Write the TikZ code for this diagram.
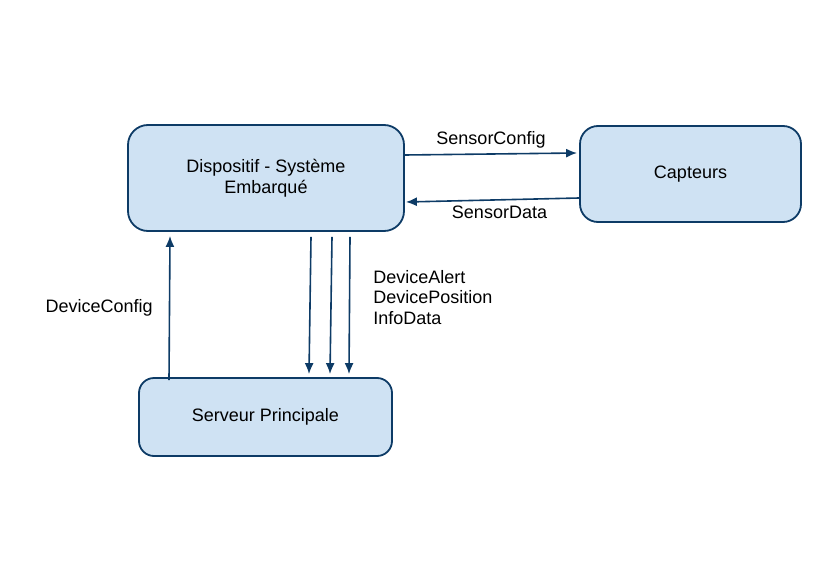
\documentclass[tikz,border=0pt]{standalone}
\usepackage{fontspec}
\setmainfont{Liberation Sans}
\usetikzlibrary{arrows.meta,positioning}
\definecolor{boxfill}{HTML}{CFE2F3}
\definecolor{navy}{HTML}{0D3B66}
\tikzset{
  block/.style={draw=navy, line width=1.8pt, fill=boxfill, rounded corners=#1,
    align=center, inner sep=0pt},
  block/.default=18pt,
  flow/.style={draw=navy, line width=1.6pt, -{Latex[length=11pt,width=9pt]}},
  lbl/.style={inner sep=2pt, align=left}
}

\begin{document}
\begin{tikzpicture}[x=1pt, y=-1pt, font=\fontsize{18}{20.5}\selectfont]
    \useasboundingbox (0,0) rectangle (837,564);

    \node[block=20pt, minimum width=276pt, minimum height=106pt] (disp) at (266,178)
        {Dispositif - Système\\Embarqué};
    \node[block, minimum width=221pt, minimum height=96pt] (capt) at (690.5,174) {Capteurs};
    \node[block=15pt, minimum width=253pt, minimum height=78pt] (serv) at (265.5,417)
        {Serveur Principale};

    % device <-> sensors
    \draw[flow] ([yshift=23pt]disp.east) -- node[lbl, above=3pt] {SensorConfig}
        ([xshift=-2pt,yshift=21pt]capt.west);
    \draw[flow] ([yshift=-24pt]capt.west) -- node[lbl, below=3pt, xshift=7pt] {SensorData}
        ([xshift=1pt,yshift=-24pt]disp.east);

    % device -> server
    \draw[flow] ([xshift=45pt,yshift=-5pt]disp.south) -- ([xshift=43.5pt,yshift=3pt]serv.north);
    \draw[flow] ([xshift=66pt,yshift=-5pt]disp.south) -- ([xshift=64.5pt,yshift=3pt]serv.north);
    \draw[flow] ([xshift=84pt,yshift=-5pt]disp.south) --
        node[lbl, pos=0.44, right=21pt] {DeviceAlert\\DevicePosition\\InfoData}
        ([xshift=83.5pt,yshift=3pt]serv.north);

    % server -> device
    \draw[flow] ([xshift=-96.5pt,yshift=-3pt]serv.north) -- node[lbl, left=14pt] {DeviceConfig}
        ([xshift=-96pt,yshift=-4pt]disp.south);
\end{tikzpicture}
\end{document}
